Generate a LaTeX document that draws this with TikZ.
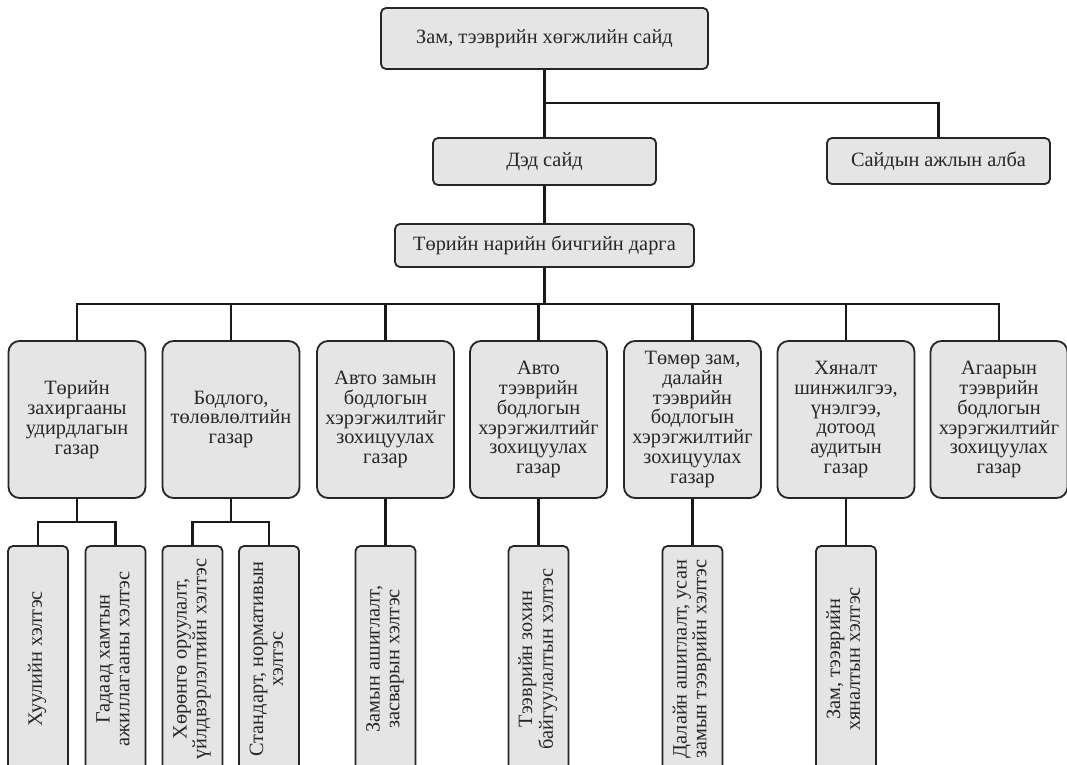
\documentclass[tikz,border=0pt]{standalone}
\usepackage{fontspec}
\setmainfont{Liberation Serif}
\usepackage{graphicx}
\tikzset{
	box/.style={draw=black!85, line width=1.8bp, fill=black!10, rounded corners=5bp, text=black!85, align=center, inner sep=0pt, font=\fontsize{20.4}{20}\selectfont},
	unitbox/.style={box, rounded corners=11bp, minimum width=137bp, minimum height=157bp},
	deptbox/.style={box, minimum width=60bp, minimum height=226bp},
	link/.style={line width=2.2bp, black!90},
}
\newcommand{\vtext}[1]{\rotatebox{90}{\begin{tabular}{@{}c@{}}#1\end{tabular}}}

\begin{document}
\begin{tikzpicture}[x=1bp, y=-1bp]
			%%%%% START %%%%%
			\useasboundingbox (0,0) rectangle (1067,765);
			\clip (0,0) rectangle (1067,765);
			
			\node[box, minimum width=327bp, minimum height=61bp] (minister) at (544.5, 38.5) {Зам, тээврийн хөгжлийн сайд};
			\node[box, minimum width=223bp, minimum height=47bp] (deputy) at (544.5, 161.5) {Дэд сайд};
			\node[box, minimum width=223bp, minimum height=46bp] (office) at (938.5, 161) {Сайдын ажлын алба};
			\node[box, minimum width=299bp, minimum height=43bp] (secretary) at (544.5, 245.5) {Төрийн нарийн бичгийн дарга};
			
			\coordinate (split) at (544.5, 103);
			\coordinate (bus) at (544.5, 304);
			\draw[link] (minister) -- (deputy);
			\draw[link] (split) -| (office);
			\draw[link] (deputy) -- (secretary);
			\draw[link] (secretary) -- (bus);
			
			%%%%% GAZAR %%%%%
			\foreach \x/\name/\txt in {
				77/admin/{Төрийн\\захиргааны\\удирдлагын\\газар},
				231/policy/{Бодлого,\\төлөвлөлтийн\\газар},
				385.5/road/{Авто замын\\бодлогын\\хэрэгжилтийг\\зохицуулах\\газар},
				538.5/auto/{Авто\\тээврийн\\бодлогын\\хэрэгжилтийг\\зохицуулах\\газар},
				692.5/rail/{Төмөр зам,\\далайн\\тээврийн\\бодлогын\\хэрэгжилтийг\\зохицуулах\\газар},
				846/audit/{Хяналт\\шинжилгээ,\\үнэлгээ,\\дотоод\\аудитын\\газар},
				999/air/{Агаарын\\тээврийн\\бодлогын\\хэрэгжилтийг\\зохицуулах\\газар}}
			{
				\node[unitbox] (\name) at (\x, 419.5) {\txt};
				\draw[link] (bus) -| (\name);
			}
			
			%%%%% HELTES %%%%%
			\node[deptbox] (law) at (38, 659) {\vtext{Хуулийн хэлтэс}};
			\node[deptbox] (foreign) at (115.5, 659) {\vtext{Гадаад хамтын\\ажиллагааны хэлтэс}};
			\node[deptbox] (invest) at (192.5, 659) {\vtext{Хөрөнгө оруулалт,\\үйлдвэрлэлтийн хэлтэс}};
			\node[deptbox] (standard) at (269, 659) {\vtext{Стандарт, нормативын\\хэлтэс}};
			\node[deptbox] (roaduse) at (385.5, 659) {\vtext{Замын ашиглалт,\\засварын хэлтэс}};
			\node[deptbox] (transport) at (538.5, 659) {\vtext{Тээврийн зохин\\байгуулалтын хэлтэс}};
			\node[deptbox] (maritime) at (692.5, 659) {\vtext{Далайн ашиглалт, усан\\замын тээврийн хэлтэс}};
			\node[deptbox] (inspect) at (846, 659) {\vtext{Зам, тээврийн\\хяналтын хэлтэс}};
			
			\coordinate (admin-fork) at (77, 522);
			\coordinate (policy-fork) at (231, 522);
			\draw[link] (admin) -- (admin-fork);
			\draw[link] (admin-fork) -| (law);
			\draw[link] (admin-fork) -| (foreign);
			\draw[link] (policy) -- (policy-fork);
			\draw[link] (policy-fork) -| (invest);
			\draw[link] (policy-fork) -| (standard);
			\draw[link] (road) -- (roaduse);
			\draw[link] (auto) -- (transport);
			\draw[link] (rail) -- (maritime);
			\draw[link] (audit) -- (inspect);
			%%%%% END %%%%%
\end{tikzpicture}
\end{document}
